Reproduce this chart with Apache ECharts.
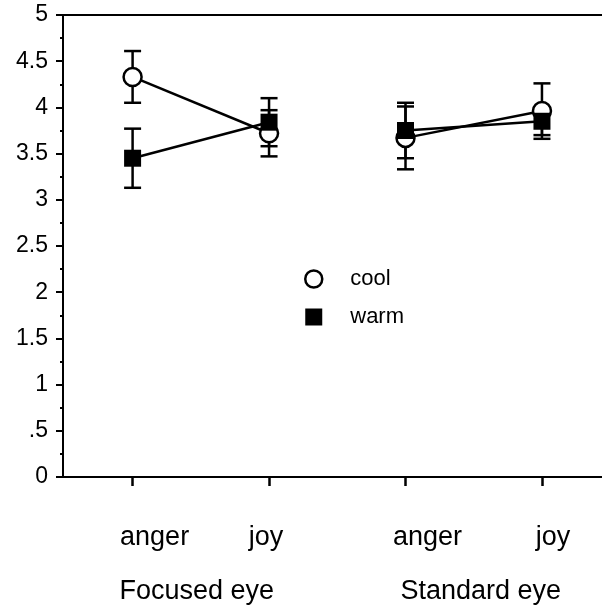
<!DOCTYPE html>
<html>
<head>
<meta charset="utf-8">
<script src="https://cdn.jsdelivr.net/npm/echarts@6/dist/echarts.min.js"></script>
<style>
  html, body { margin: 0; padding: 0; background: #fff; }
  #chart { width: 602px; height: 608px; }
</style>
</head>
<body>
<div id="chart"></div>
<script>
// Condition means with error bars, per eye type and emotion
const categories = ['anger', 'joy', 'anger', 'joy'];
const groups = ['Focused eye', 'Standard eye'];
const coolMeans = [4.33, 3.72, 3.67, 3.96];
const coolErrors = [0.28, 0.25, 0.34, 0.30];
const warmMeans = [3.45, 3.84, 3.75, 3.85];
const warmErrors = [0.32, 0.26, 0.30, 0.15];
const yTickLabels = ['0', '.5', '1', '1.5', '2', '2.5', '3', '3.5', '4', '4.5', '5'];

const FONT = 'Liberation Sans';
const positions = categories.map((_, i) => i + 1); // x slots 1..4
const groupCenters = [1.5, 3.5];

const X_MIN = 0.49, X_MAX = 4.44;
const LW = 2.5;

function errorSeries(name, means, errors) {
  return {
    name: name,
    type: 'custom',
    xAxisIndex: 0,
    yAxisIndex: 0,
    data: means.map((m, i) => [positions[i], m, errors[i]]),
    renderItem: function (params, api) {
      const x = api.value(0), m = api.value(1), e = api.value(2);
      const top = api.coord([x, m + e]);
      const bot = api.coord([x, m - e]);
      const hw = 8.5;
      const style = { stroke: '#000', lineWidth: LW };
      return {
        type: 'group',
        children: [
          { type: 'line', shape: { x1: top[0], y1: top[1], x2: bot[0], y2: bot[1] }, style: style },
          { type: 'line', shape: { x1: top[0] - hw, y1: top[1], x2: top[0] + hw, y2: top[1] }, style: style },
          { type: 'line', shape: { x1: bot[0] - hw, y1: bot[1], x2: bot[0] + hw, y2: bot[1] }, style: style }
        ]
      };
    },
    silent: true,
    z: 2
  };
}

function lineSeries(name, means, symbol, size, itemStyle) {
  // one connected segment per eye group
  return groups.map((g, gi) => ({
    name: name,
    type: 'line',
    xAxisIndex: 0,
    yAxisIndex: 0,
    data: [0, 1].map(k => {
      const i = gi * 2 + k;
      return [positions[i], means[i]];
    }),
    symbol: symbol,
    symbolSize: size,
    showAllSymbol: true,
    itemStyle: itemStyle,
    lineStyle: { color: '#000', width: LW },
    emphasis: { disabled: true },
    animation: false,
    z: 2
  }));
}

// label offsets (px) applied through rich-text padding
const catShift = [22, -3, 22, 11];
const groupShift = [-4, 7];
function shiftRich(shifts, fontSize) {
  const rich = {};
  shifts.forEach((s, i) => {
    rich['s' + i] = {
      fontFamily: FONT, fontSize: fontSize, color: '#000',
      padding: s >= 0 ? [0, 0, 0, 2 * s] : [0, -2 * s, 0, 0]
    };
  });
  return rich;
}

const series = [].concat(
  [errorSeries('cool', coolMeans, coolErrors)],
  lineSeries('cool', coolMeans, 'circle', 18, { color: '#fff', borderColor: '#000', borderWidth: LW }),
  [errorSeries('warm', warmMeans, warmErrors)],
  lineSeries('warm', warmMeans, 'rect', 17, { color: '#000', borderWidth: 0 })
);

const chart = echarts.init(document.getElementById('chart'), null, { renderer: 'canvas' });
chart.setOption({
  animation: false,
  backgroundColor: '#fff',
  grid: { left: 63, right: 0, top: 15, bottom: 131, containLabel: false },
  legend: {
    orient: 'vertical',
    left: 299,
    top: 263,
    itemWidth: 17,
    itemHeight: 17,
    itemGap: 16,
    selectedMode: false,
    textStyle: { fontFamily: FONT, fontSize: 22, color: '#000', padding: [0, 0, 0, 23] },
    data: [
      { name: 'cool', icon: 'circle', itemStyle: { color: '#fff', borderColor: '#000', borderWidth: LW } },
      { name: 'warm', icon: 'rect', itemStyle: { color: '#000', borderWidth: 0 } }
    ]
  },
  xAxis: [
    {
      type: 'value', position: 'bottom', min: X_MIN, max: X_MAX,
      axisLine: { show: true, lineStyle: { color: '#000', width: 2 } },
      axisTick: { show: true, length: 9, lineStyle: { color: '#000', width: 2.5 }, customValues: positions },
      axisLabel: {
        show: true, margin: 47, customValues: positions,
        formatter: function (v) {
          const i = positions.indexOf(Math.round(v));
          return '{s' + i + '|' + categories[i] + '}';
        },
        rich: shiftRich(catShift, 27)
      },
      splitLine: { show: false }
    },
    {
      type: 'value', position: 'bottom', min: X_MIN, max: X_MAX,
      axisLine: { show: false },
      axisTick: { show: false },
      axisLabel: {
        show: true, margin: 101, customValues: groupCenters,
        formatter: function (v) {
          const i = groupCenters.indexOf(v);
          return '{s' + i + '|' + groups[i] + '}';
        },
        rich: shiftRich(groupShift, 27)
      },
      splitLine: { show: false }
    },
    {
      type: 'value', position: 'top', min: X_MIN, max: X_MAX,
      axisLine: { show: true, lineStyle: { color: '#000', width: 2 } },
      axisTick: { show: false },
      axisLabel: { show: false },
      splitLine: { show: false }
    }
  ],
  yAxis: {
    type: 'value', min: 0, max: 5, interval: 0.5,
    axisLine: { show: true, lineStyle: { color: '#000', width: 2 } },
    axisTick: { show: true, length: 7, lineStyle: { color: '#000', width: 2 } },
    minorTick: { show: true, splitNumber: 2, length: 3, lineStyle: { color: '#000', width: 2 } },
    axisLabel: {
      margin: 15, fontFamily: FONT, fontSize: 23, color: '#000',
      formatter: function (v) { return yTickLabels[Math.round(v / 0.5)]; }
    },
    splitLine: { show: false },
    minorSplitLine: { show: false }
  },
  series: series
});
</script>
</body>
</html>
